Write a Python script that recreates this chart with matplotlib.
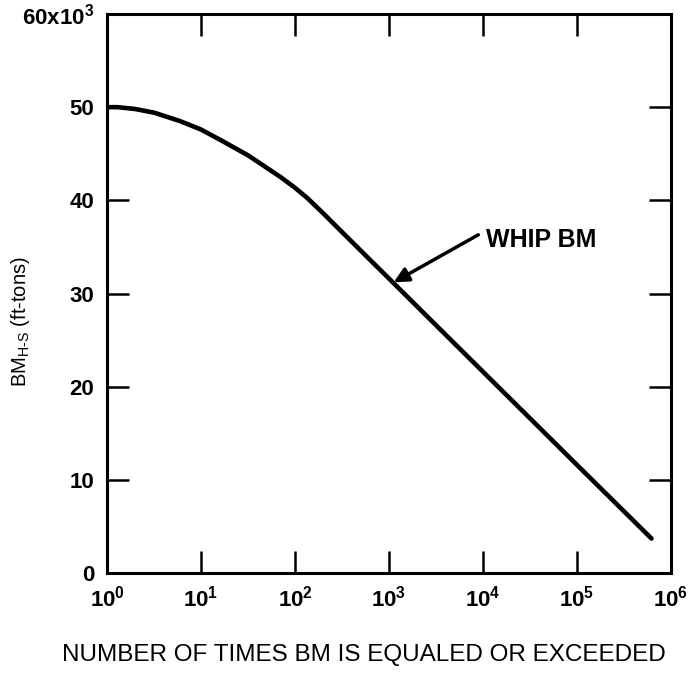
import matplotlib
matplotlib.use("Agg")
import matplotlib.pyplot as plt
import numpy as np

# curve (cycles, bending moment in 10^3 ft-tons)
cycles = [1, 1.3, 2, 3.2, 6, 10, 17, 32, 69, 100, 135, 200, 316, 1000, 1e4, 1e5, 6.2e5]
bm = [50.0, 50.0, 49.8, 49.4, 48.5, 47.6, 46.35, 44.8, 42.55, 41.35, 40.25, 38.6, 36.6, 31.6, 21.6, 11.6, 3.7]

xticks = [1, 10, 100, 1e3, 1e4, 1e5, 1e6]
xtick_labels = [r'$\mathbf{10^{%d}}$' % i for i in range(7)]
yticks = [0, 10, 20, 30, 40, 50, 60]
ytick_labels = ['0', '10', '20', '30', '40', '50', r'$\mathbf{60x10^{3}}$']

plt.rcParams['font.family'] = 'Liberation Sans'
plt.rcParams['mathtext.fontset'] = 'custom'
plt.rcParams['mathtext.rm'] = 'Liberation Sans'
plt.rcParams['mathtext.bf'] = 'Liberation Sans:bold'

fig = plt.figure(figsize=(6.89, 6.74), dpi=100)
ax = fig.add_axes([107 / 689, 1 - 573 / 674, 564 / 689, 559 / 674])

ax.semilogx(cycles, bm, color='black', lw=3.3, solid_capstyle='round',
            solid_joinstyle='round')

ax.set_xlim(1, 1e6)
ax.set_ylim(0, 60)
ax.set_xticks(xticks)
ax.set_xticklabels(xtick_labels)
ax.minorticks_off()
ax.set_yticks(yticks)
ax.set_yticklabels(ytick_labels)

ax.tick_params(direction='in', top=True, right=True, length=16, width=1.8,
               labelsize=16, pad=9)
for lab in ax.get_xticklabels() + ax.get_yticklabels():
    lab.set_fontweight('bold')
for sp in ax.spines.values():
    sp.set_linewidth(2.2)

ax.set_ylabel(r'BM$_{\mathrm{H\text{-}S}}$ (ft-tons)', fontsize=14.5)
ax.yaxis.set_label_coords(-0.133, 0.45)
ax.set_xlabel('NUMBER OF TIMES BM IS EQUALED OR EXCEEDED', fontsize=17.5)
ax.xaxis.label.set_va('center')
ax.xaxis.set_label_coords(0.456, -0.147)

ax.annotate('', xy=(10 ** 3.05, 31.2), xytext=(10 ** 3.95, 36.3),
            arrowprops=dict(arrowstyle='-|>', color='black', lw=2.5,
                            mutation_scale=22, shrinkA=0, shrinkB=0))
ax.text(10 ** 4.03, 35.7, 'WHIP BM', fontsize=18, fontweight='bold',
        va='center', ha='left')

plt.savefig("out.png", dpi=100)
